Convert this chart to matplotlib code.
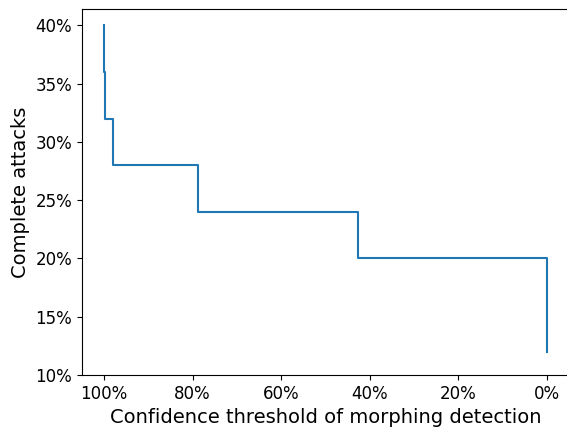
import matplotlib
matplotlib.use('Agg')
import matplotlib.pyplot as plt
from matplotlib.ticker import PercentFormatter

# confidence thresholds (%) where the count of complete attacks drops
thresholds = [100, 100, 99.7, 98.0, 78.8, 42.7, 0, 0]
attacks = [40, 36, 32, 28, 24, 20, 16, 12]

fig = plt.figure(figsize=(5.67, 4.28), dpi=100)
ax = fig.add_axes([82 / 567, 53 / 428, 487 / 567, 366 / 428])
ax.step(thresholds, attacks, where='post', color='#1f77b4', lw=1.5)
ax.set_xlim(105, -5)
ax.set_ylim(bottom=10)
ax.set_xticks([100, 80, 60, 40, 20, 0])
ax.set_yticks([10, 15, 20, 25, 30, 35, 40])
ax.xaxis.set_major_formatter(PercentFormatter(decimals=0))
ax.yaxis.set_major_formatter(PercentFormatter(decimals=0))
ax.tick_params(labelsize=12)
ax.set_xlabel('Confidence threshold of morphing detection', fontsize=14)
ax.set_ylabel('Complete attacks', fontsize=14)
fig.savefig('out.png', dpi=100)
